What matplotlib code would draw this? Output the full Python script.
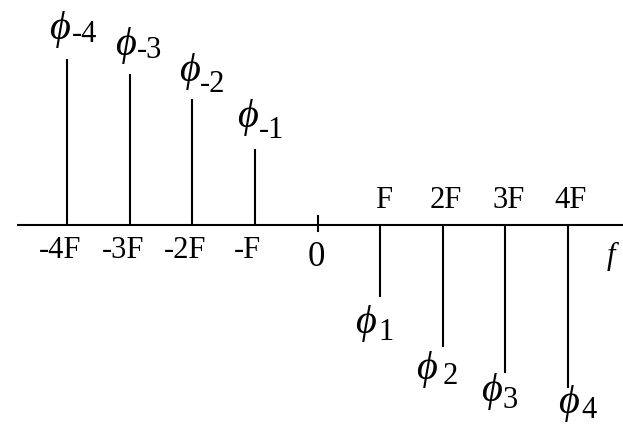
import matplotlib
matplotlib.use("Agg")
import matplotlib.pyplot as plt

# ---- data ----
harmonics = [-4, -3, -2, -1, 1, 2, 3, 4]          # multiples of F
amplitudes = [166, 151, 126, 76, -72, -122, -148, -163]  # stem values (arbitrary units)
tick_labels = ["-4F", "-3F", "-2F", "-F", "F", "2F", "3F", "4F"]
zero_label = "0"
phase_subscripts = ["-4", "-3", "-2", "-1", "1", "2", "3", "4"]
axis_label = "f"

# ---- style / layout ----
W, H, DPI = 6.23, 4.24, 100
fig = plt.figure(figsize=(W, H), dpi=DPI)
ax = fig.add_axes([0, 0, 1, 1])
ax.set_xlim(-5.072, 4.88)
ax.set_ylim(-199, 225)
ax.axis("off")

FONT = ["Liberation Serif", "DejaVu Serif"]
FS = 22
PHI_FS = 29
LW = 1.5

# horizontal axis
ax.plot([-4.80, 4.88], [0, 0], color="black", lw=LW, solid_capstyle="butt")
# zero tick
ax.plot([0, 0], [-6, 9], color="black", lw=LW)

# stems
for h, a in zip(harmonics, amplitudes):
    ax.plot([h, h], [0, a], color="black", lw=LW, solid_capstyle="butt")

# tick labels (offsets in pixels)
for h, a, lab in zip(harmonics, amplitudes, tick_labels):
    if a > 0:
        dx, dy = -7, -26
    else:
        dx, dy = 3, 24
    ax.annotate(lab, xy=(h, 0), xytext=(dx, dy), textcoords="offset pixels",
                ha="center", va="center", fontsize=FS, family=FONT)
ax.annotate(zero_label, xy=(0, 0), xytext=(-1, -32), textcoords="offset pixels",
            ha="center", va="center", fontsize=FS + 3, family=FONT)
ax.annotate(axis_label, xy=(4.88, 0), xytext=(-12, -31), textcoords="offset pixels",
            ha="center", va="center", fontsize=FS, family=FONT, style="italic")

# phase labels: phi offset from stem tip, subscript offset from phi
phi_off = [(-8, 29), (-4, 29), (-3, 27), (-7, 31),
           (-15, -26), (-16, -23), (-14, -19), (1, -16)]
sub_off = [(25, -5), (24, -6), (23, -13), (24, -12),
           (21, -10), (24, -7), (19, -8), (20, -7)]
for h, a, s, po, so in zip(harmonics, amplitudes, phase_subscripts, phi_off, sub_off):
    ax.annotate("\u03d5", xy=(h, a), xytext=po, textcoords="offset pixels",
                ha="center", va="center", fontsize=PHI_FS, family=FONT, style="italic")
    ax.annotate(s, xy=(h, a), xytext=(po[0] + so[0], po[1] + so[1]),
                textcoords="offset pixels", ha="center", va="center",
                fontsize=FS, family=FONT)

fig.savefig("out.png", dpi=DPI, facecolor="white")
